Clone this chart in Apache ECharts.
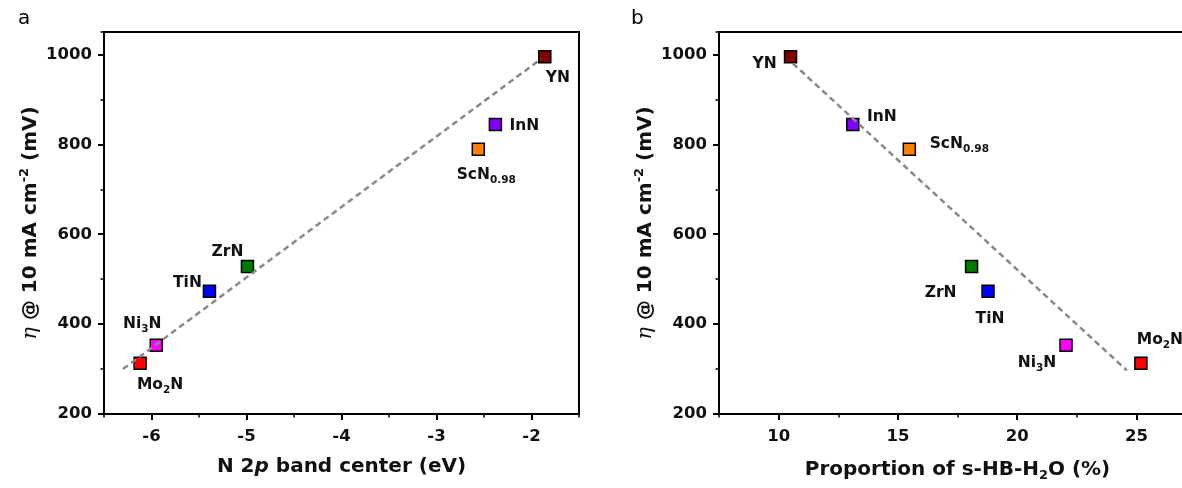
<!DOCTYPE html>
<html>
<head>
<meta charset="utf-8">
<script src="https://cdn.jsdelivr.net/npm/echarts@6/dist/echarts.min.js"></script>
<style>
html,body{margin:0;padding:0;background:#fff;overflow:hidden;}
#chart{width:1200px;height:488px;}
</style>
</head>
<body>
<div id="chart"></div>
<script>
// ---------- data ----------
const materials = ['YN', 'InN', 'ScN0.98', 'ZrN', 'TiN', 'Ni3N', 'Mo2N'];
const n2pBandCenter = [-1.86, -2.38, -2.56, -4.99, -5.39, -5.95, -6.12];      // eV
const sHBH2O = [10.5, 13.11, 15.48, 18.09, 18.78, 22.05, 25.19];             // %
const overpotential = [995, 844, 789, 528, 473, 353, 313];                    // mV
const fitLineA = [[-6.3, 300], [-1.9, 990]];
const fitLineB = [[10.6, 980], [24.6, 297]];
const xTicksA = [-6, -5, -4, -3, -2];
const xTicksB = [10, 15, 20, 25];
const yTicks = [200, 400, 600, 800, 1000];

// ---------- styling (not data) ----------
const colors = ['#800000', '#8000ff', '#ff8000', '#007a00', '#0000ff', '#ff00ff', '#ff0000'];
const richNames = {
  'YN': '{n|YN}',
  'InN': '{n|InN}',
  'ScN0.98': '{n|ScN}{s|0.98}',
  'ZrN': '{n|ZrN}',
  'TiN': '{n|TiN}',
  'Ni3N': '{n|Ni}{s|3}{n|N}',
  'Mo2N': '{n|Mo}{s|2}{n|N}'
};
const offsetsA = {
  'YN': [13, 21], 'InN': [29, 1], 'ScN0.98': [8, 26], 'ZrN': [-20, -15],
  'TiN': [-22, -8], 'Ni3N': [-14, -21], 'Mo2N': [20, 22]
};
const offsetsB = {
  'YN': [-26, 7], 'InN': [29, -8], 'ScN0.98': [50, -5], 'ZrN': [-31, 26],
  'TiN': [2, 28], 'Ni3N': [-29, 18], 'Mo2N': [19, -23]
};

const FONT = "'DejaVu Sans', 'Liberation Sans', Arial, sans-serif";
const TXT = '#111';

const labelRich = {
  n: {fontFamily: FONT, fontSize: 15.5, fontWeight: 'bold', color: TXT},
  s: {fontFamily: FONT, fontSize: 10.5, fontWeight: 'bold', color: TXT, padding: [10, 0, 0, 0]}
};

function buildPoints(xs, offsets) {
  return materials.map((m, i) => ({
    value: [xs[i], overpotential[i]],
    name: m,
    itemStyle: {color: colors[i]},
    label: {offset: offsets[m]}
  }));
}

const axisNameRich = {
  t: {fontFamily: FONT, fontSize: 20, fontWeight: 'bold', color: TXT},
  i: {fontFamily: FONT, fontSize: 20, fontWeight: 'bold', fontStyle: 'italic', color: TXT},
  eta: {fontFamily: "'DejaVu Serif', serif", fontSize: 21, fontStyle: 'italic', color: TXT},
  sup: {fontFamily: FONT, fontSize: 13, fontWeight: 'bold', color: TXT, padding: [0, 0, 12, 0]},
  sub: {fontFamily: FONT, fontSize: 13, fontWeight: 'bold', color: TXT, padding: [12, 0, 0, 0]}
};

const tickLabelStyle = {fontFamily: FONT, fontSize: 16.5, fontWeight: 'bold', color: TXT};

function mainX(grid, min, max, step, ticks, name) {
  return {
    gridIndex: grid, type: 'value', position: 'bottom', min: min, max: max, interval: step,
    axisLine: {show: true, onZero: false, lineStyle: {color: '#000', width: 2}},
    axisTick: {show: true, inside: false, length: 6, customValues: ticks, lineStyle: {color: '#000', width: 2}},
    axisLabel: Object.assign({margin: 14, customValues: ticks,
      formatter: v => ticks.indexOf(v) >= 0 ? String(v) : ''}, tickLabelStyle),
    splitLine: {show: false},
    name: name, nameLocation: 'middle', nameGap: 43,
    nameTextStyle: {rich: axisNameRich}
  };
}
function minorX(grid, min, max, step) {
  return {
    gridIndex: grid, type: 'value', position: 'bottom', min: min, max: max, interval: step,
    axisLine: {show: false, onZero: false},
    axisTick: {show: true, inside: false, length: 3.5, lineStyle: {color: '#000', width: 1.5}},
    axisLabel: {show: false}, splitLine: {show: false}
  };
}
function mainY(grid) {
  return {
    gridIndex: grid, type: 'value', position: 'left', min: 200, max: 1050, interval: 200,
    axisLine: {show: true, onZero: false, lineStyle: {color: '#000', width: 2}},
    axisTick: {show: true, inside: false, length: 6, customValues: yTicks, lineStyle: {color: '#000', width: 2}},
    axisLabel: Object.assign({margin: 12, customValues: yTicks,
      formatter: v => yTicks.indexOf(v) >= 0 ? String(v) : ''}, tickLabelStyle),
    splitLine: {show: false},
    name: '{eta|η}{t| @ 10 mA cm}{sup|-2}{t| (mV)}', nameLocation: 'middle', nameGap: 61, nameRotate: 90,
    nameTextStyle: {rich: axisNameRich}
  };
}
function minorY(grid) {
  return {
    gridIndex: grid, type: 'value', position: 'left', min: 200, max: 1050, interval: 100,
    axisLine: {show: false, onZero: false},
    axisTick: {show: true, inside: false, length: 3.5, lineStyle: {color: '#000', width: 1.5}},
    axisLabel: {show: false}, splitLine: {show: false}
  };
}

const scatterCommon = {
  type: 'scatter', symbol: 'rect', symbolSize: 12, z: 3,
  itemStyle: {borderColor: '#000', borderWidth: 1.5, opacity: 1},
  label: {show: true, position: 'inside', align: 'center', verticalAlign: 'middle',
    formatter: p => richNames[p.name], rich: labelRich},
  emphasis: {disabled: true}
};
const lineCommon = {
  type: 'line', symbol: 'none', z: 4, silent: true,
  lineStyle: {color: '#888', width: 2.5, type: [6, 4]}
};

const option = {
  animation: false,
  backgroundColor: '#fff',
  title: [
    {text: 'a', left: 13, top: 4, textStyle: {fontFamily: FONT, fontSize: 20, fontWeight: 'normal', color: '#000'}},
    {text: 'b', left: 626, top: 4, textStyle: {fontFamily: FONT, fontSize: 20, fontWeight: 'normal', color: '#000'}}
  ],
  grid: [
    {left: 104, right: 621, top: 32, bottom: 74, show: true, borderColor: '#000', borderWidth: 2, backgroundColor: 'transparent', containLabel: false},
    {left: 719, right: 4, top: 32, bottom: 74, show: true, borderColor: '#000', borderWidth: 2, backgroundColor: 'transparent', containLabel: false}
  ],
  xAxis: [
    mainX(0, -6.5, -1.5, 0.5, xTicksA, '{t|N 2}{i|p}{t| band center (eV)}'),
    minorX(0, -6.5, -1.5, 0.5),
    mainX(1, 7.5, 27.5, 2.5, xTicksB, '{t|Proportion of s-HB-H}{sub|2}{t|O (%)}'),
    minorX(1, 7.5, 27.5, 2.5)
  ],
  yAxis: [mainY(0), minorY(0), mainY(1), minorY(1)],
  series: [
    Object.assign({}, scatterCommon, {xAxisIndex: 0, yAxisIndex: 0, data: buildPoints(n2pBandCenter, offsetsA)}),
    Object.assign({}, scatterCommon, {xAxisIndex: 2, yAxisIndex: 2, data: buildPoints(sHBH2O, offsetsB)}),
    Object.assign({}, lineCommon, {xAxisIndex: 0, yAxisIndex: 0, data: fitLineA}),
    Object.assign({}, lineCommon, {xAxisIndex: 2, yAxisIndex: 2, data: fitLineB})
  ]
};

const chart = echarts.init(document.getElementById('chart'), null, {renderer: 'canvas'});
chart.setOption(option);
</script>
</body>
</html>
